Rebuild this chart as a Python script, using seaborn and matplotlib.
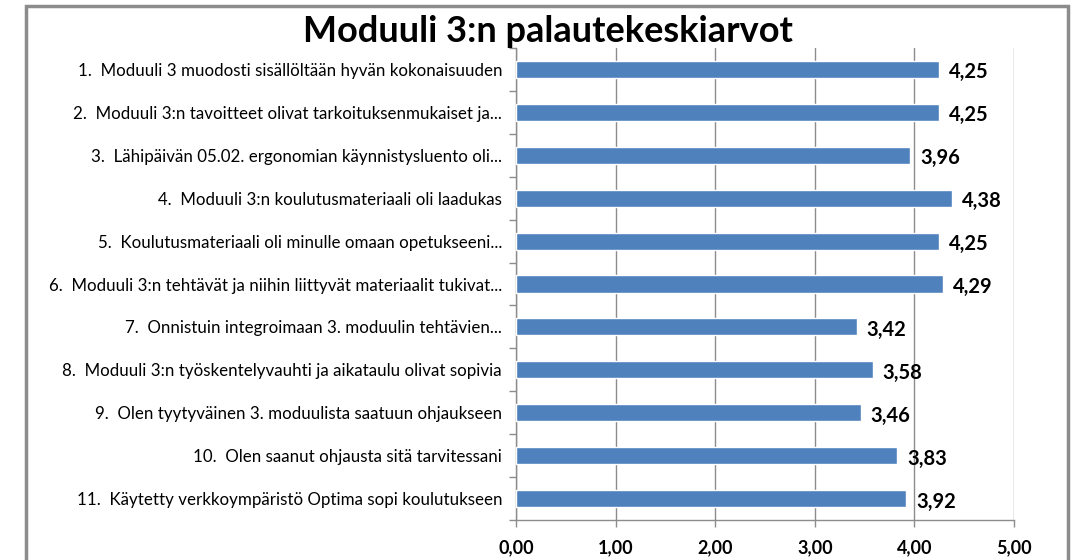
import matplotlib
matplotlib.use("Agg")
import matplotlib.pyplot as plt
import seaborn as sns
import pandas as pd
from matplotlib.patches import Rectangle

# ============================
# DATA
# ============================
questions = [
    "1.  Moduuli 3 muodosti sisällöltään hyvän kokonaisuuden",
    "2.  Moduuli 3:n tavoitteet olivat tarkoituksenmukaiset ja...",
    "3.  Lähipäivän 05.02. ergonomian käynnistysluento oli...",
    "4.  Moduuli 3:n koulutusmateriaali oli laadukas",
    "5.  Koulutusmateriaali oli minulle omaan opetukseeni...",
    "6.  Moduuli 3:n tehtävät ja niihin liittyvät materiaalit tukivat...",
    "7.  Onnistuin integroimaan 3. moduulin tehtävien...",
    "8.  Moduuli 3:n työskentelyvauhti ja aikataulu olivat sopivia",
    "9.  Olen tyytyväinen 3. moduulista saatuun ohjaukseen",
    "10.  Olen saanut ohjausta sitä tarvitessani",
    "11.  Käytetty verkkoympäristö Optima sopi koulutukseen",
]
averages = [4.25, 4.25, 3.96, 4.38, 4.25, 4.29, 3.42, 3.58, 3.46, 3.83, 3.92]
x_ticks = [0, 1, 2, 3, 4, 5]
title = "Moduuli 3:n palautekeskiarvot"

df = pd.DataFrame({"kysymys": questions, "keskiarvo": averages})

# ============================
# PLOT
# ============================
sns.set_style("white", {"xtick.bottom": True, "ytick.left": True,
                        "text.color": "black", "xtick.color": "black",
                        "ytick.color": "black"})
plt.rcParams["font.family"] = ["Lato", "DejaVu Sans"]

fig = plt.figure(figsize=(10.78, 5.6), dpi=100)
ax = fig.add_axes([516 / 1078, 1 - 520 / 560, 498 / 1078, 472 / 560])

sns.barplot(data=df, y="kysymys", x="keskiarvo", color="#4F81BD",
            saturation=1, width=0.4, ax=ax, zorder=3)

for i, v in enumerate(averages):
    ax.text(v + 0.1, i + 0.07, f"{v:.2f}".replace(".", ","),
            va="center", ha="left", fontsize=14.5, fontweight="bold",
            color="black", zorder=4)

ax.set_xlim(0, 5)
ax.set_ylim(len(questions) - 0.5, -0.5)
ax.set_xticks(x_ticks)
ax.set_xticklabels([f"{t:.2f}".replace(".", ",") for t in x_ticks],
                   fontsize=13, fontweight="bold")
ax.set_yticks([i - 0.5 for i in range(len(questions) + 1)], minor=True)
ax.tick_params(axis="y", which="major", length=0, labelsize=12.2,
               labelcolor="black", pad=10)
ax.tick_params(axis="y", which="minor", length=5, width=1,
               color="#8c8c8c", direction="out")
ax.tick_params(axis="x", length=5, width=1, color="#8c8c8c",
               labelcolor="black", direction="out", pad=9)
ax.xaxis.grid(True, color="#8c8c8c", linewidth=1, zorder=0)
ax.set_axisbelow(True)
ax.set_xlabel("")
ax.set_ylabel("")

for side in ["top", "right"]:
    ax.spines[side].set_visible(False)
for side in ["left", "bottom"]:
    ax.spines[side].set_color("#8c8c8c")
    ax.spines[side].set_linewidth(1)

fig.text(548 / 1078, 1 - 32 / 560, title, ha="center", va="center",
         fontsize=26, fontweight="bold", color="black")

# outer frame of the chart area
fig.patches.append(Rectangle((26 / 1078, -0.05), 1042 / 1078, 1.05 - 6 / 560,
                             transform=fig.transFigure, fill=False,
                             edgecolor="#8c8c8c", linewidth=2.5))

fig.savefig("out.png", dpi=100, facecolor="white")
